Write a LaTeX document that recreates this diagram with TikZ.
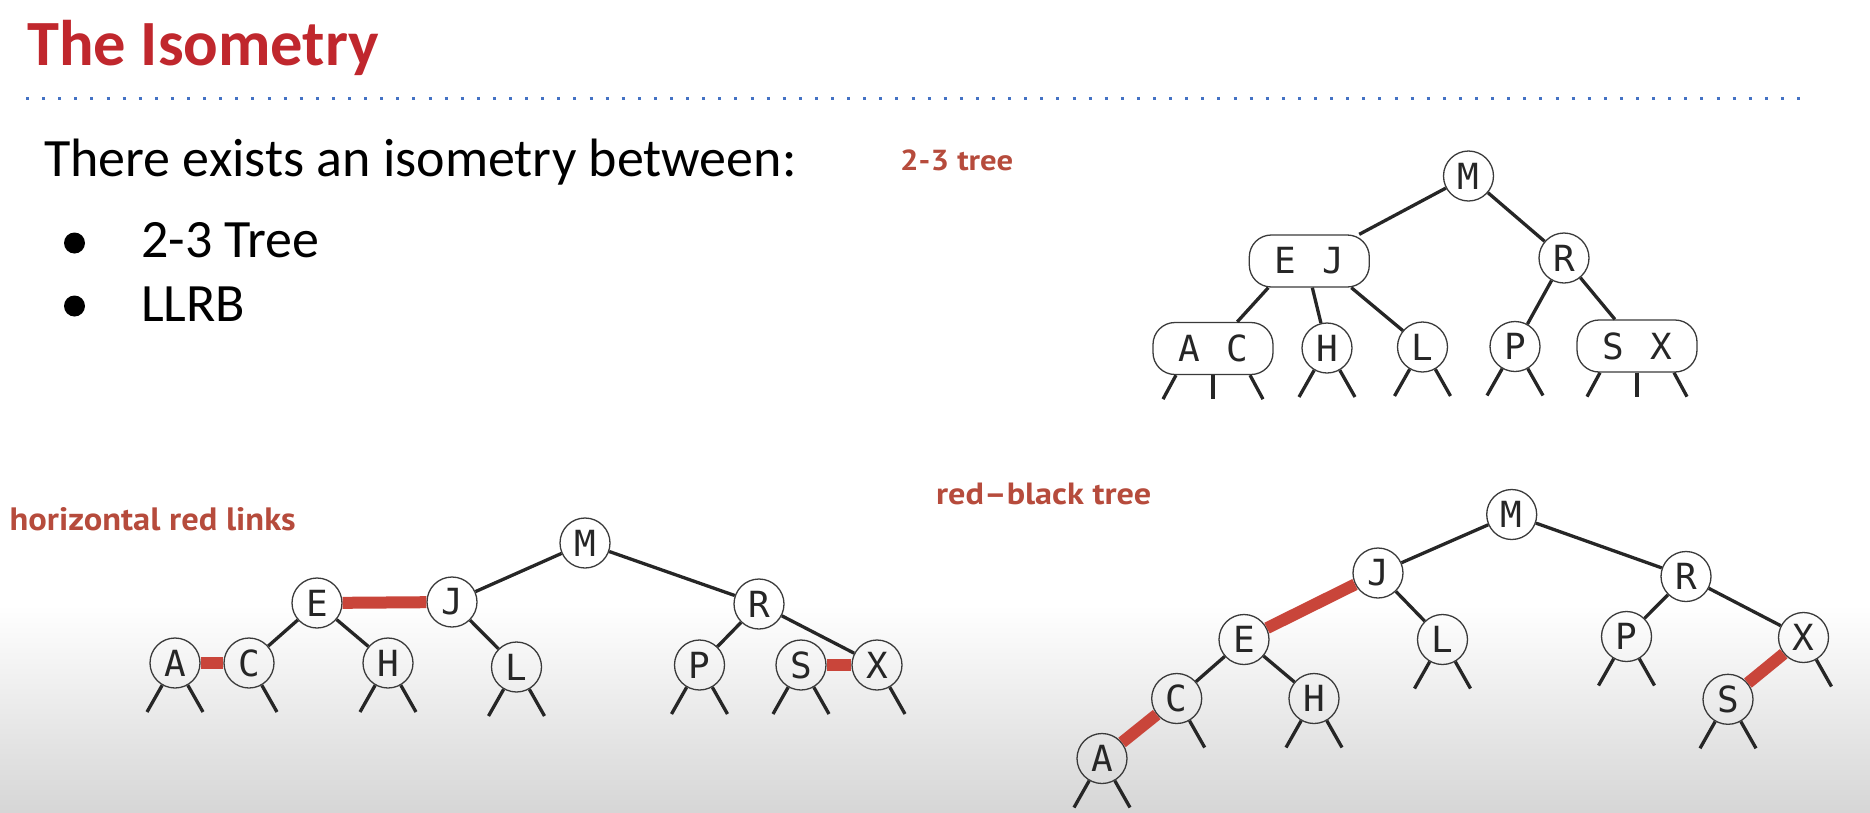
\documentclass[tikz,border=0pt]{standalone}
\usepackage{fontspec}
\setmainfont{Carlito}
\newfontfamily\keyfont{DejaVu Sans Mono}
\newfontfamily\capfont{PT Sans}
\usetikzlibrary{calc}

\definecolor{titlered}{HTML}{C0272D}
\definecolor{capred}{HTML}{B64B3C}
\definecolor{linkred}{HTML}{C9453A}
\definecolor{dotblue}{HTML}{4472C4}
\definecolor{nodeline}{HTML}{3A3A3A}
\definecolor{edgecol}{HTML}{262626}
\definecolor{fadegray}{HTML}{D6D6D6}

\tikzset{
  keyfnt/.style={font=\keyfont\fontsize{36}{36}\selectfont, text=black!85},
  key/.style={circle, draw=nodeline, line width=1.3pt, minimum size=50pt, inner sep=0pt, keyfnt},
  keypair/.style={rectangle, rounded corners=22pt, draw=nodeline, line width=1.3pt,
    minimum width=120pt, minimum height=52pt, inner sep=0pt, keyfnt},
  blacklink/.style={draw=edgecol, line width=3.3pt},
  redlink/.style={draw=linkred, line width=12pt},
  bodytext/.style={anchor=base west, inner sep=0pt, font=\fontsize{54}{54}\selectfont},
  captext/.style={anchor=base west, inner sep=0pt, text=capred, font=\capfont\bfseries},
  dotrule/.style={draw=dotblue, line width=3pt, dash pattern=on 3pt off 13.1pt},
}

% null links hanging below a key
\newcommand\nullleft[1]{%
  \coordinate (#1-nl) at ($(#1)+(-28,49)$);
  \draw[blacklink] (#1.240) -- (#1-nl);}
\newcommand\nullright[1]{%
  \coordinate (#1-nr) at ($(#1)+(28,49)$);
  \draw[blacklink] (#1.300) -- (#1-nr);}
\newcommand\nullboth[1]{\nullleft{#1}\nullright{#1}}
% three null links below a 3-node
\newcommand\nullthree[1]{%
  \coordinate (#1-a) at ($(#1.south)+(-37,0)$);
  \coordinate (#1-b) at ($(#1.south)+(-50,24)$);
  \coordinate (#1-c) at ($(#1.south)+(0,24)$);
  \coordinate (#1-d) at ($(#1.south)+(37,0)$);
  \coordinate (#1-e) at ($(#1.south)+(50,24)$);
  \draw[blacklink] (#1-a) -- (#1-b);
  \draw[blacklink] (#1.south) -- (#1-c);
  \draw[blacklink] (#1-d) -- (#1-e);}

\begin{document}
\begin{tikzpicture}[x=1pt,y=-1pt]
\useasboundingbox (0,0) rectangle (1870,812);

% soft gray fade at the bottom
\shade[top color=white, bottom color=fadegray] (0,605) rectangle (1870,812);

% heading
\node[anchor=base west, inner sep=0pt, text=titlered, font=\bfseries\fontsize{64.5}{64.5}\selectfont]
  (title) at (27,65) {The Isometry};
\coordinate (ruleL) at (26,98.5);
\coordinate (ruleR) at (1802,98.5);
\draw[dotrule] (ruleL) -- (ruleR);

% body text
\node[bodytext] (intro) at (44,176.7) {There exists an isometry between:};
\node[circle, fill=black, minimum size=21pt, inner sep=0pt] (b1) at (74.5,243) {};
\node[circle, fill=black, minimum size=21pt, inner sep=0pt] (b2) at (74.5,306) {};
\node[bodytext] (item1) at (141,257.3) {2-3 Tree};
\node[bodytext] (item2) at (141,321.7) {LLRB};

% captions
\node[captext] (cap23) at (900,170.7) {\resizebox{113pt}{20.7pt}{2-3 tree}};
\node[captext] (caphr) at (9.5,530.5) {\resizebox{286pt}{23pt}{horizontal red links}};
\node[captext] (caprb) at (936,504) {\resizebox{215pt}{21.5pt}{red–black tree}};

% ---------- 2-3 tree ----------
\node[key] (tM) at (1468.5,176) {M};
\node[keypair] (tEJ) at (1309.3,261) {E\hspace{26pt}J};
\node[key] (tR) at (1564,258) {R};
\node[keypair] (tAC) at (1213,348.5) {A\hspace{26pt}C};
\node[key] (tH) at (1327,348) {H};
\node[key] (tL) at (1422.5,347) {L};
\node[key] (tP) at (1515,346.5) {P};
\node[keypair] (tSX) at (1637,346) {S\hspace{26pt}X};

\draw[blacklink] (tM) -- (tEJ);
\draw[blacklink] (tM) -- (tR);
\coordinate (tEJ-l) at ($(tEJ.south)+(-41,0)$);
\coordinate (tEJ-m) at ($(tEJ.south)+(3,0)$);
\coordinate (tEJ-r) at ($(tEJ.south)+(42,0)$);
\draw[blacklink] (tEJ-l) -- (tAC);
\draw[blacklink] (tEJ-m) -- (tH);
\draw[blacklink] (tEJ-r) -- (tL);
\draw[blacklink] (tR) -- (tP);
\draw[blacklink] (tR) -- (tSX);
\nullthree{tAC}
\nullboth{tH}
\nullboth{tL}
\nullboth{tP}
\nullthree{tSX}

% ---------- red-black tree with horizontal red links ----------
\node[key] (hM) at (585,543) {M};
\node[key] (hE) at (317,603) {E};
\node[key] (hJ) at (452,602) {J};
\node[key] (hR) at (759,604) {R};
\node[key] (hA) at (175,663) {A};
\node[key] (hC) at (249,663) {C};
\node[key] (hH) at (388,663) {H};
\node[key] (hL) at (516.5,667) {L};
\node[key] (hP) at (699.5,665) {P};
\node[key] (hS) at (801,665) {S};
\node[key] (hX) at (877,665) {X};

\draw[blacklink] (hM) -- (hJ);
\draw[blacklink] (hM) -- (hR);
\draw[redlink] (hE) -- (hJ);
\draw[blacklink] (hE) -- (hC);
\draw[blacklink] (hE) -- (hH);
\draw[blacklink] (hJ) -- (hL);
\draw[redlink] (hA) -- (hC);
\draw[blacklink] (hR) -- (hP);
\draw[blacklink] (hR) -- (hX);
\draw[redlink] (hS) -- (hX);
\nullboth{hA}
\nullright{hC}
\nullboth{hH}
\nullboth{hL}
\nullboth{hP}
\nullboth{hS}
\nullright{hX}

% ---------- red-black tree ----------
\node[key] (rM) at (1511.7,514.5) {M};
\node[key] (rJ) at (1378,573) {J};
\node[key] (rR) at (1686,576.5) {R};
\node[key] (rE) at (1244,639.5) {E};
\node[key] (rL) at (1442.5,639.5) {L};
\node[key] (rP) at (1626.5,636.5) {P};
\node[key] (rX) at (1803.5,637.5) {X};
\node[key] (rC) at (1176.7,698.5) {C};
\node[key] (rH) at (1314,698.5) {H};
\node[key] (rS) at (1728,699.3) {S};
\node[key] (rA) at (1102,758.5) {A};

\draw[blacklink] (rM) -- (rJ);
\draw[blacklink] (rM) -- (rR);
\draw[redlink] (rJ) -- (rE);
\draw[blacklink] (rJ) -- (rL);
\draw[blacklink] (rE) -- (rC);
\draw[blacklink] (rE) -- (rH);
\draw[redlink] (rC) -- (rA);
\draw[blacklink] (rR) -- (rP);
\draw[blacklink] (rR) -- (rX);
\draw[redlink] (rX) -- (rS);
\nullboth{rA}
\nullright{rC}
\nullboth{rH}
\nullboth{rL}
\nullboth{rP}
\nullboth{rS}
\nullright{rX}
\end{tikzpicture}
\end{document}
